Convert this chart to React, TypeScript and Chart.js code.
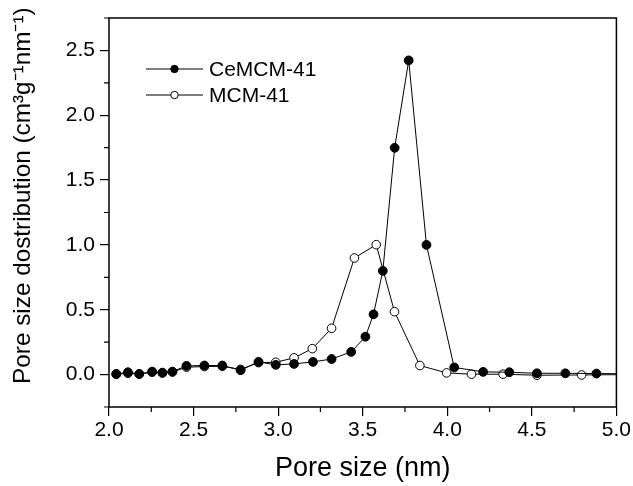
import React, { useEffect, useRef } from 'react';
import { Chart, registerables } from 'chart.js';

Chart.register(...registerables);

const FONT = '"Liberation Sans", Arial, Helvetica, sans-serif';

const ceLabel = 'CeMCM-41';
const mcmLabel = 'MCM-41';

const cePoreSize = [2.043, 2.112, 2.179, 2.255, 2.316, 2.375, 2.458, 2.564, 2.67, 2.778, 2.884, 2.986, 3.094, 3.206, 3.316, 3.432, 3.516, 3.564, 3.619, 3.689, 3.772, 3.877, 4.041, 4.212, 4.367, 4.53, 4.698, 4.882, 5.07];
const ceDistribution = [0.005, 0.018, 0.005, 0.023, 0.015, 0.023, 0.067, 0.07, 0.07, 0.034, 0.098, 0.075, 0.082, 0.098, 0.12, 0.175, 0.292, 0.465, 0.8, 1.749, 2.423, 1.0, 0.055, 0.021, 0.018, 0.01, 0.01, 0.008, 0.006];

const mcmPoreSize = [2.043, 2.112, 2.179, 2.255, 2.316, 2.375, 2.458, 2.564, 2.67, 2.778, 2.884, 2.986, 3.094, 3.202, 3.316, 3.451, 3.58, 3.688, 3.838, 3.996, 4.143, 4.33, 4.53, 4.794, 5.07];
const mcmDistribution = [0.003, 0.01, 0.004, 0.018, 0.012, 0.02, 0.057, 0.062, 0.064, 0.04, 0.092, 0.095, 0.129, 0.2, 0.357, 0.899, 1.002, 0.485, 0.07, 0.013, 0.003, 0.003, -0.005, -0.003, 0.0];

const xTickLabels = ['2.0', '2.5', '3.0', '3.5', '4.0', '4.5', '5.0'];
const yTickLabels = ['0.0', '0.5', '1.0', '1.5', '2.0', '2.5'];
const xTitle = 'Pore size (nm)';
const yTitle = 'Pore size dostribution (cm³g⁻¹nm⁻¹)';

const labelFor = (list: string[]) => (v: number | string) => {
  const s = Number(v).toFixed(1);
  return Math.abs(Number(v) * 2 - Math.round(Number(v) * 2)) < 1e-9 && list.includes(s) ? s : '';
};

export default function App() {
  const ref = useRef<HTMLCanvasElement>(null);

  useEffect(() => {
    const canvas = ref.current;
    if (!canvas) return;

    const framePlugin = {
      id: 'frame',
      afterDraw(chart: any) {
        const { ctx, chartArea: a } = chart;
        ctx.save();
        ctx.strokeStyle = '#000';
        ctx.lineWidth = 1.5;
        ctx.strokeRect(a.left, a.top, a.right - a.left, a.bottom - a.top);
        // minor ticks
        ctx.lineWidth = 1.2;
        const xs = chart.scales.x;
        const ys = chart.scales.y;
        ctx.beginPath();
        xs.ticks.forEach((t: any) => {
          if (t.label === '') {
            const px = xs.getPixelForValue(t.value);
            ctx.moveTo(px, a.bottom);
            ctx.lineTo(px, a.bottom + 5);
          }
        });
        ys.ticks.forEach((t: any) => {
          if (t.label === '') {
            const py = ys.getPixelForValue(t.value);
            ctx.moveTo(a.left - 5, py);
            ctx.lineTo(a.left, py);
          }
        });
        ctx.stroke();
        ctx.restore();
      },
    };

    const legendPlugin = {
      id: 'insideLegend',
      afterDraw(chart: any) {
        const { ctx, chartArea: a } = chart;
        ctx.save();
        chart.data.datasets.forEach((ds: any, i: number) => {
          const y = a.top + 51 + i * 26;
          const x0 = a.left + 37;
          const x1 = a.left + 94;
          ctx.strokeStyle = '#000';
          ctx.lineWidth = 1;
          ctx.beginPath();
          ctx.moveTo(x0, y);
          ctx.lineTo(x1, y);
          ctx.stroke();
          ctx.beginPath();
          ctx.arc((x0 + x1) / 2, y, 3.7, 0, Math.PI * 2);
          ctx.fillStyle = ds.pointBackgroundColor;
          ctx.fill();
          ctx.stroke();
          ctx.fillStyle = '#000';
          ctx.font = `21px ${FONT}`;
          ctx.textBaseline = 'middle';
          ctx.textAlign = 'left';
          ctx.fillText(ds.label, a.left + 100, y + 1);
        });
        ctx.restore();
      },
    };

    const tickColor = (ctx: any) => (ctx.tick && ctx.tick.label !== '' ? '#000' : 'rgba(0,0,0,0)');

    const chart = new Chart(canvas, {
      type: 'line',
      data: {
        datasets: [
          {
            label: ceLabel,
            data: cePoreSize.map((x, i) => ({ x, y: ceDistribution[i] })),
            borderColor: '#000',
            borderWidth: 1,
            pointRadius: 4.4,
            pointBackgroundColor: '#000',
            pointBorderColor: '#000',
            pointBorderWidth: 1,
            tension: 0,
            clip: 0,
          },
          {
            label: mcmLabel,
            data: mcmPoreSize.map((x, i) => ({ x, y: mcmDistribution[i] })),
            borderColor: '#000',
            borderWidth: 1,
            pointRadius: 4.3,
            pointBackgroundColor: '#fff',
            pointBorderColor: '#000',
            pointBorderWidth: 1,
            tension: 0,
            clip: 0,
          },
        ],
      },
      options: {
        responsive: false,
        devicePixelRatio: 1,
        animation: false,
        layout: { padding: { top: 18, right: 16, left: 0, bottom: 0 } },
        plugins: {
          legend: { display: false },
          tooltip: { enabled: false },
        },
        scales: {
          x: {
            type: 'linear',
            min: 2,
            max: 5,
            afterFit: (s: any) => {
              s.height = 79;
            },
            ticks: {
              stepSize: 0.25,
              autoSkip: false,
              maxRotation: 0,
              color: '#000',
              padding: 2,
              font: { family: FONT, size: 21 },
              callback: labelFor(xTickLabels),
            },
            grid: { drawOnChartArea: false, tickLength: 9, lineWidth: 1.2, tickColor },
            border: { display: false },
            title: {
              display: true,
              text: xTitle,
              color: '#000',
              font: { family: FONT, size: 27 },
              padding: { top: 0, bottom: 1 },
            },
          },
          y: {
            type: 'linear',
            min: -0.25,
            max: 2.75,
            afterFit: (s: any) => {
              s.width = 109;
            },
            ticks: {
              stepSize: 0.25,
              autoSkip: false,
              color: '#000',
              padding: 5,
              font: { family: FONT, size: 21 },
              callback: labelFor(yTickLabels),
            },
            grid: { drawOnChartArea: false, tickLength: 9, lineWidth: 1.2, tickColor },
            border: { display: false },
            title: {
              display: true,
              text: '     ' + yTitle,
              color: '#000',
              font: { family: FONT, size: 24.3 },
              padding: { top: 9, bottom: 0 },
            },
          },
        },
      } as any,
      plugins: [framePlugin, legendPlugin],
    });

    return () => chart.destroy();
  }, []);

  return (
    <div style={{ position: 'absolute', left: 0, top: 0, width: 633, height: 486, background: '#fff' }}>
      <canvas ref={ref} width={633} height={486} style={{ display: 'block' }} />
    </div>
  );
}
